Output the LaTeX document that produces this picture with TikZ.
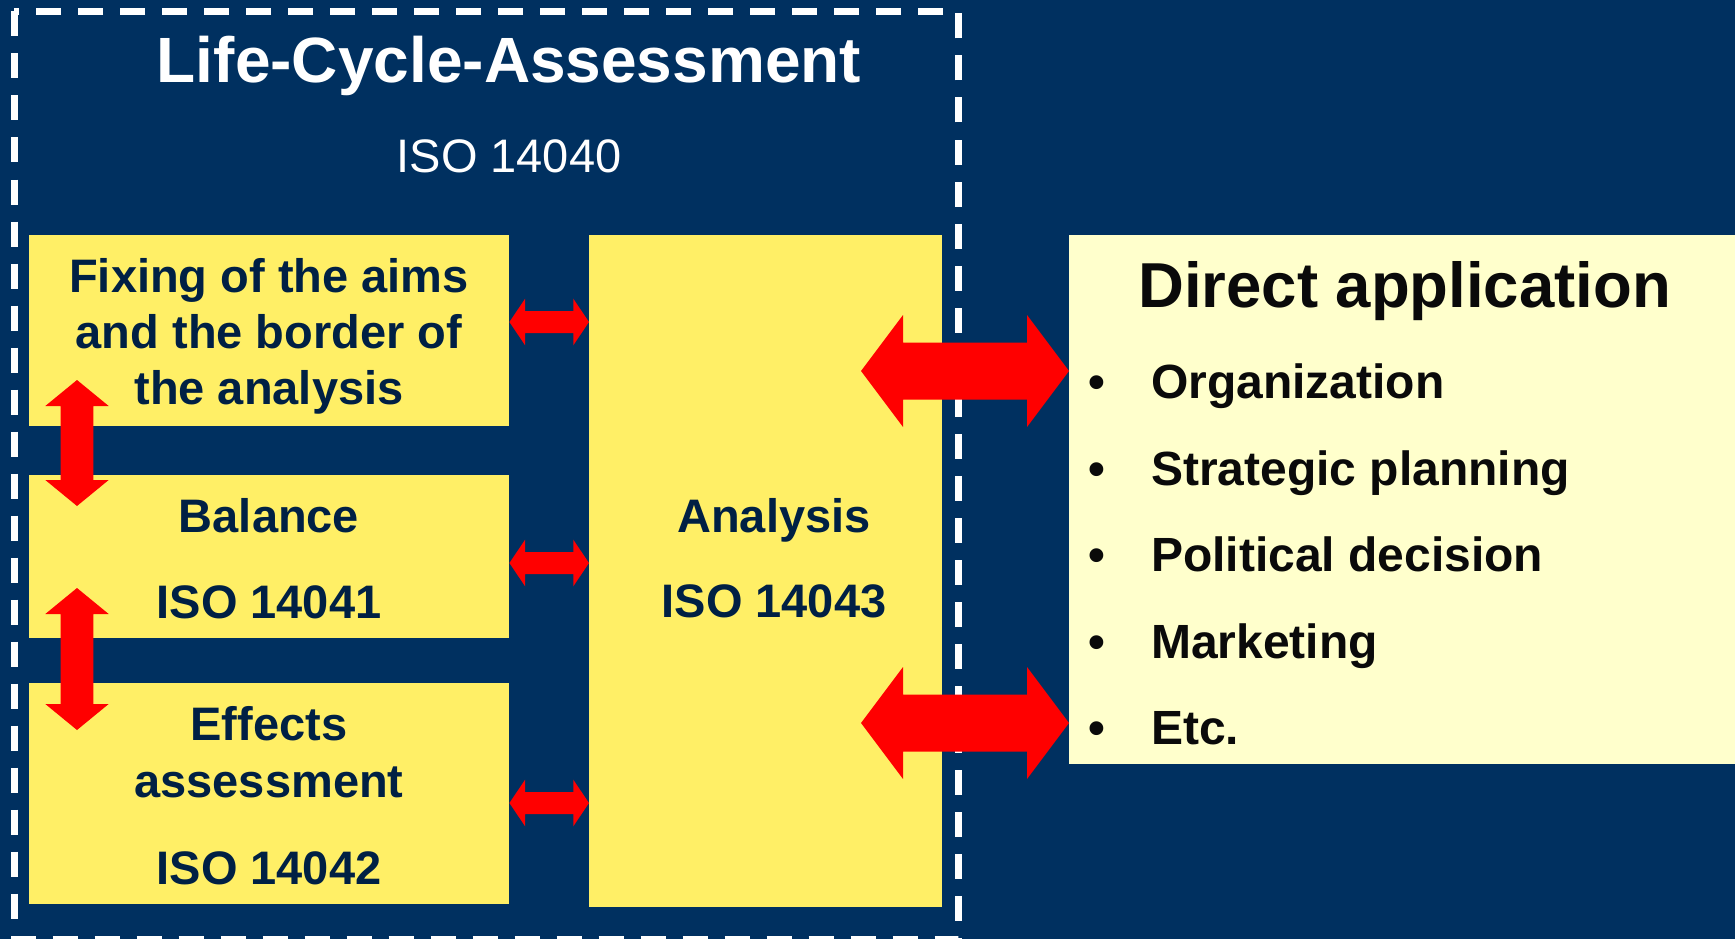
\documentclass[tikz,border=0pt]{standalone}
\usepackage{fontspec}
\setmainfont{Liberation Sans}
\usetikzlibrary{calc}

\definecolor{navybg}{RGB}{0,48,96}
\definecolor{boxtext}{RGB}{0,32,68}
\definecolor{stageyellow}{RGB}{255,239,102}
\definecolor{paleyellow}{RGB}{255,255,204}
\definecolor{arrowred}{RGB}{255,0,0}
\definecolor{inktext}{RGB}{10,10,10}

% horizontal two-way block arrow: #1 left tip, #2 right tip,
% #3 head length, #4 head half-width, #5 shaft half-width
\newcommand\twowayh[5]{%
  \fill[arrowred] let \p1=(#1), \p2=(#2) in
    (\p1) -- (\x1+#3,\y1+#4) -- (\x1+#3,\y1+#5) -- (\x2-#3,\y2+#5)
    -- (\x2-#3,\y2+#4) -- (\p2) -- (\x2-#3,\y2-#4) -- (\x2-#3,\y2-#5)
    -- (\x1+#3,\y1-#5) -- (\x1+#3,\y1-#4) -- cycle;}
% vertical two-way block arrow: #1 top tip, #2 bottom tip
\newcommand\twowayv[5]{%
  \fill[arrowred] let \p1=(#1), \p2=(#2) in
    (\p1) -- (\x1+#4,\y1-#3) -- (\x1+#5,\y1-#3) -- (\x2+#5,\y2+#3)
    -- (\x2+#4,\y2+#3) -- (\p2) -- (\x2-#4,\y2+#3) -- (\x2-#5,\y2+#3)
    -- (\x1-#5,\y1-#3) -- (\x1-#4,\y1-#3) -- cycle;}

\tikzset{
  stagebox/.style={fill=stageyellow, draw=none, inner sep=0pt, anchor=north west},
  appbox/.style={fill=paleyellow, draw=none, inner sep=0pt, anchor=north west},
  boxline/.style={inner sep=0pt, anchor=base, text=boxtext,
    font=\fontsize{47}{56}\selectfont\bfseries},
  applitem/.style={inner sep=0pt, anchor=base west, text=inktext,
    font=\fontsize{48}{58}\selectfont\bfseries},
  bulletmark/.style={inner sep=0pt, anchor=base, text=inktext,
    font=\fontsize{48}{58}\selectfont\bfseries},
}

\begin{document}
\begin{tikzpicture}[x=1pt,y=-1pt]
  \useasboundingbox (0,0) rectangle (1735,939);
  \fill[navybg] (0,0) rectangle (1735,939);

  % LCA frame
  \draw[white, line width=7pt, dash pattern=on 25pt off 17pt]
    (14,11.5) rectangle (958,939);
  \node[inner sep=0pt, anchor=base, text=white,
        font=\fontsize{64}{70}\selectfont\bfseries] (lca) at (509,83) {Life-Cycle-Assessment};
  \node[inner sep=0pt, anchor=base, text=white,
        font=\fontsize{47}{56}\selectfont] (iso40) at (509,172) {ISO 14040};

  % stage boxes
  \node[stagebox, minimum width=480pt, minimum height=191pt] (fix) at (29,235) {};
  \node[stagebox, minimum width=480pt, minimum height=163pt] (bal) at (29,475) {};
  \node[stagebox, minimum width=480pt, minimum height=221pt] (eff) at (29,683) {};
  \node[stagebox, minimum width=353pt, minimum height=672pt] (ana) at (589,235) {};
  \node[appbox, minimum width=666pt, minimum height=529pt] (app) at (1069,235) {};

  % stage texts
  \node[boxline] (fix1) at (269,292) {Fixing of the aims};
  \node[boxline] (fix2) at (269,348) {and the border of};
  \node[boxline] (fix3) at (269,404) {the analysis};
  \node[boxline] (bal1) at (269,532) {Balance};
  \node[boxline] (bal2) at (269,618) {ISO 14041};
  \node[boxline] (eff1) at (269,740) {Effects};
  \node[boxline] (eff2) at (269,797) {assessment};
  \node[boxline] (eff3) at (269,884) {ISO 14042};
  \node[boxline] (ana1) at (774,532) {Analysis};
  \node[boxline] (ana2) at (774,617) {ISO 14043};

  % direct application list
  \node[inner sep=0pt, anchor=base west, text=inktext,
        font=\fontsize{63.5}{70}\selectfont\bfseries] (apptitle) at (1138,307) {Direct application};
  \foreach \name/\txt/\yy in {i1/Organization/398, i2/Strategic planning/485,
      i3/Political decision/571, i4/Marketing/658, i5/Etc./744}{
    \node[bulletmark] (b\name) at (1097,\yy) {•};
    \node[applitem] (\name) at (1151,\yy) {\txt};
  }

  % arrow end points
  \coordinate (h1l) at (fix.east |- 0,322);
  \coordinate (h1r) at (ana.west |- 0,322);
  \coordinate (h2l) at (bal.east |- 0,563);
  \coordinate (h2r) at (ana.west |- 0,563);
  \coordinate (h3l) at (eff.east |- 0,803);
  \coordinate (h3r) at (ana.west |- 0,803);
  \coordinate (v1t) at (77,380);
  \coordinate (v1b) at (77,506);
  \coordinate (v2t) at (77,588);
  \coordinate (v2b) at (77,730);
  \coordinate (g1l) at (861,371);
  \coordinate (g1r) at (app.west |- 0,371);
  \coordinate (g2l) at (861,723);
  \coordinate (g2r) at (app.west |- 0,723);

  % arrows
  \twowayh{h1l}{h1r}{15.7pt}{23.3pt}{11pt}
  \twowayh{h2l}{h2r}{15.7pt}{23.3pt}{11pt}
  \twowayh{h3l}{h3r}{15.7pt}{23.3pt}{11pt}
  \twowayv{v1t}{v1b}{26pt}{31.7pt}{16.3pt}
  \twowayv{v2t}{v2b}{26pt}{31.7pt}{16.3pt}
  \twowayh{g1l}{g1r}{42pt}{56pt}{28.5pt}
  \twowayh{g2l}{g2r}{42pt}{56pt}{28.5pt}
\end{tikzpicture}
\end{document}
